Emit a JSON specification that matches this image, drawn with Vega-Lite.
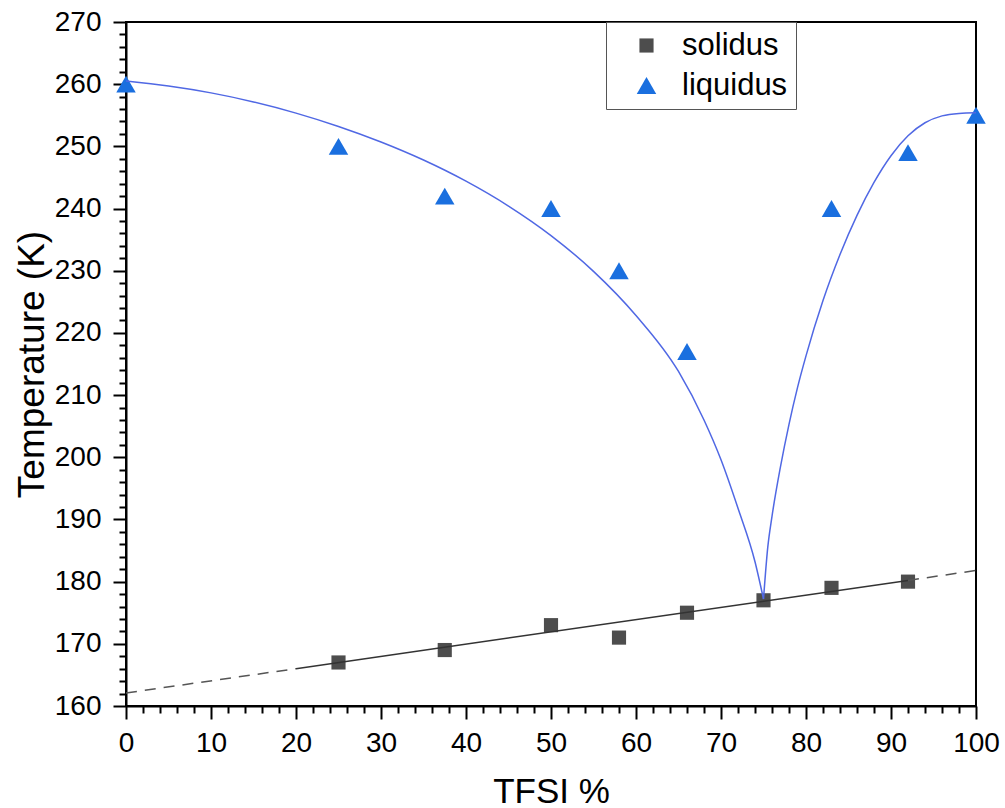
{
  "$schema": "https://vega.github.io/schema/vega-lite/v6.json",
  "width": 850,
  "height": 684,
  "autosize": {"type": "none"},
  "padding": {"left": 126, "top": 22, "right": 29, "bottom": 102},
  "background": "white",
  "config": {
    "view": {"stroke": "black", "strokeWidth": 2},
    "font": "Liberation Sans",
    "axis": {
      "grid": false,
      "domainColor": "black",
      "domainWidth": 2,
      "tickColor": "black",
      "tickWidth": 2,
      "labelColor": "black",
      "labelFont": "Liberation Sans",
      "labelFontSize": 28,
      "titleFont": "Liberation Sans",
      "titleFontWeight": "normal",
      "titleColor": "black",
      "labelOverlap": false,
      "labelFlush": false,
      "labelBound": false
    }
  },
  "datasets": {
    "markers": [
      {"pct": 25, "temp": 167, "phase": "solidus"},
      {"pct": 37.5, "temp": 169, "phase": "solidus"},
      {"pct": 50, "temp": 173, "phase": "solidus"},
      {"pct": 58, "temp": 171, "phase": "solidus"},
      {"pct": 66, "temp": 175, "phase": "solidus"},
      {"pct": 75, "temp": 177, "phase": "solidus"},
      {"pct": 83, "temp": 179, "phase": "solidus"},
      {"pct": 92, "temp": 180, "phase": "solidus"},
      {"pct": 0, "temp": 260, "phase": "liquidus"},
      {"pct": 25, "temp": 250, "phase": "liquidus"},
      {"pct": 37.5, "temp": 242, "phase": "liquidus"},
      {"pct": 50, "temp": 240, "phase": "liquidus"},
      {"pct": 58, "temp": 230, "phase": "liquidus"},
      {"pct": 66, "temp": 217, "phase": "liquidus"},
      {"pct": 83, "temp": 240, "phase": "liquidus"},
      {"pct": 92, "temp": 249, "phase": "liquidus"},
      {"pct": 100, "temp": 255, "phase": "liquidus"}
    ],
    "solfit": [
      {"pct": 0, "temp": 162.1, "seg": "a"},
      {"pct": 20, "temp": 166.0, "seg": "a"},
      {"pct": 20, "temp": 166.0, "seg": "b"},
      {"pct": 92, "temp": 180.2, "seg": "b"},
      {"pct": 92, "temp": 180.2, "seg": "c"},
      {"pct": 100, "temp": 181.8, "seg": "c"}
    ],
    "liqfit": [
      {"pct": 0, "temp": 260.5, "branch": "left"},
      {"pct": 5, "temp": 259.7, "branch": "left"},
      {"pct": 10, "temp": 258.6, "branch": "left"},
      {"pct": 15, "temp": 257.15, "branch": "left"},
      {"pct": 20, "temp": 255.35, "branch": "left"},
      {"pct": 25, "temp": 253.2, "branch": "left"},
      {"pct": 30, "temp": 250.7, "branch": "left"},
      {"pct": 35, "temp": 247.8, "branch": "left"},
      {"pct": 40, "temp": 244.4, "branch": "left"},
      {"pct": 45, "temp": 240.4, "branch": "left"},
      {"pct": 50, "temp": 235.65, "branch": "left"},
      {"pct": 55, "temp": 229.9, "branch": "left"},
      {"pct": 60, "temp": 222.8, "branch": "left"},
      {"pct": 65, "temp": 213.8, "branch": "left"},
      {"pct": 68, "temp": 206.0, "branch": "left"},
      {"pct": 70, "temp": 199.6, "branch": "left"},
      {"pct": 72, "temp": 191.8, "branch": "left"},
      {"pct": 74, "temp": 183.2, "branch": "left"},
      {"pct": 75, "temp": 177.2, "branch": "left"},
      {"pct": 75, "temp": 177.2, "branch": "right"},
      {"pct": 75.5, "temp": 185.5, "branch": "right"},
      {"pct": 76, "temp": 190.5, "branch": "right"},
      {"pct": 77, "temp": 198.5, "branch": "right"},
      {"pct": 78, "temp": 205.3, "branch": "right"},
      {"pct": 79, "temp": 211.2, "branch": "right"},
      {"pct": 80, "temp": 216.3, "branch": "right"},
      {"pct": 82, "temp": 225.2, "branch": "right"},
      {"pct": 84, "temp": 232.6, "branch": "right"},
      {"pct": 86, "temp": 238.9, "branch": "right"},
      {"pct": 88, "temp": 244.2, "branch": "right"},
      {"pct": 90, "temp": 248.5, "branch": "right"},
      {"pct": 92, "temp": 251.7, "branch": "right"},
      {"pct": 94, "temp": 253.8, "branch": "right"},
      {"pct": 96, "temp": 254.9, "branch": "right"},
      {"pct": 98, "temp": 255.3, "branch": "right"},
      {"pct": 100, "temp": 255.4, "branch": "right"}
    ]
  },
  "encoding": {
    "x": {
      "field": "pct",
      "type": "quantitative",
      "scale": {"domain": [0, 100], "nice": false, "zero": false},
      "axis": {
        "title": "TFSI %",
        "titleFontSize": 35,
        "values": [0,2,4,6,8,10,12,14,16,18,20,22,24,26,28,30,32,34,36,38,40,42,44,46,48,50,52,54,56,58,60,62,64,66,68,70,72,74,76,78,80,82,84,86,88,90,92,94,96,98,100],
        "labelExpr": "datum.value % 10 === 0 ? datum.label : ''",
        "tickSize": {"condition": {"test": "datum.value % 10 === 0", "value": 13}, "value": 7},
        "labelPadding": 10,
        "titlePadding": 17
      }
    },
    "y": {
      "field": "temp",
      "type": "quantitative",
      "scale": {"domain": [160, 270], "nice": false, "zero": false},
      "axis": {
        "title": "Temperature (K)",
        "titleFontSize": 37,
        "values": [160,162,164,166,168,170,172,174,176,178,180,182,184,186,188,190,192,194,196,198,200,202,204,206,208,210,212,214,216,218,220,222,224,226,228,230,232,234,236,238,240,242,244,246,248,250,252,254,256,258,260,262,264,266,268,270],
        "labelExpr": "datum.value % 10 === 0 ? datum.label : ''",
        "tickSize": {"condition": {"test": "datum.value % 10 === 0", "value": 13}, "value": 7},
        "labelPadding": 12,
        "titlePadding": 3
      }
    }
  },
  "layer": [
    {
      "data": {"name": "markers"},
      "mark": {"type": "point", "filled": true, "opacity": 1, "strokeWidth": 0},
      "encoding": {
        "color": {
          "field": "phase",
          "type": "nominal",
          "scale": {"domain": ["solidus", "liquidus"], "range": ["#4d4d4d", "#1a6fdf"]},
          "legend": {
            "title": null,
            "orient": "none",
            "legendX": 480,
            "legendY": 0,
            "strokeColor": "#555555",
            "fillColor": "white",
            "padding": 8,
            "symbolOffset": 17,
            "labelOffset": 20,
            "labelFontSize": 31,
            "labelColor": "black",
            "labelFont": "Liberation Sans",
            "rowPadding": 8,
            "symbolStrokeWidth": 0,
            "symbolOpacity": 1
          }
        },
        "shape": {
          "field": "phase",
          "type": "nominal",
          "scale": {"domain": ["solidus", "liquidus"], "range": ["square", "triangle-up"]}
        },
        "size": {
          "field": "phase",
          "type": "nominal",
          "scale": {"type": "ordinal", "domain": ["solidus", "liquidus"], "range": [200, 380]}
        }
      }
    },
    {
      "data": {"name": "solfit"},
      "transform": [{"filter": "datum.seg === 'b'"}],
      "mark": {"type": "line", "color": "#333333", "strokeWidth": 1.5},
      "encoding": {}
    },
    {
      "data": {"name": "solfit"},
      "transform": [{"filter": "datum.seg !== 'b'"}],
      "mark": {"type": "line", "color": "#555555", "strokeWidth": 1.5, "strokeDash": [11, 8]},
      "encoding": {"detail": {"field": "seg", "type": "nominal"}}
    },
    {
      "data": {"name": "liqfit"},
      "mark": {"type": "line", "color": "#5068e4", "strokeWidth": 1.5, "interpolate": "monotone"},
      "encoding": {"detail": {"field": "branch", "type": "nominal"}}
    }
  ]
}
